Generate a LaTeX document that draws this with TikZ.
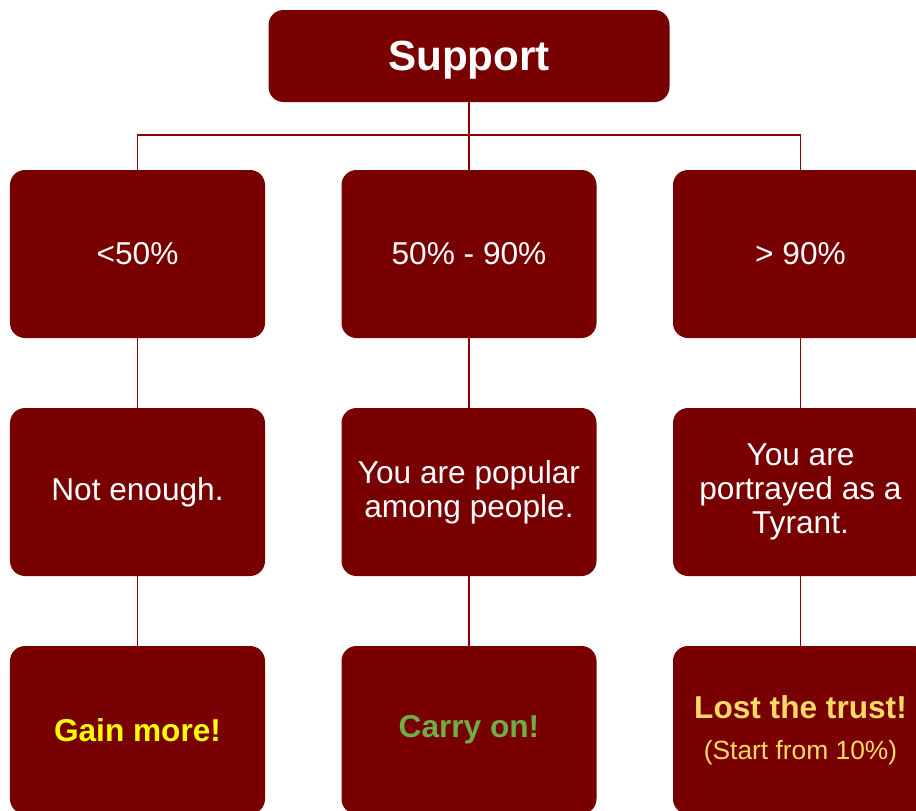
\documentclass[tikz,border=0pt]{standalone}
\usepackage{fontspec}
\setmainfont{Liberation Sans}
\definecolor{boxred}{RGB}{120,0,0}
\definecolor{linkred}{RGB}{140,0,0}
\definecolor{gainyellow}{RGB}{255,255,0}
\definecolor{carrygreen}{RGB}{112,173,71}
\definecolor{lostgold}{RGB}{255,217,102}

\begin{document}
\begin{tikzpicture}[
  block/.style={fill=boxred, rounded corners=0.3cm, text=white, align=center,
    minimum width=5.1cm, minimum height=3.36cm, inner sep=0pt,
    font=\fontsize{18}{19.5}\selectfont},
  link/.style={linkred, line width=1.1pt}]
\clip (0,0) rectangle (18.32,-16.22);
\fill [white] (0,0) rectangle (18.32,-16.22);
\node [block, minimum width=8.02cm, minimum height=1.84cm, text depth=0pt,
  font=\fontsize{24}{28}\selectfont\bfseries] (support) at (9.38,-1.12) {Support};
% first row: the ranges
\node [block] (low)  at (2.75,-5.08)  {<50\%};
\node [block] (mid)  at (9.38,-5.08)  {50\% - 90\%};
\node [block] (high) at (16.01,-5.08) {> 90\%};
% second row
\node [block] (lowtxt)  at (2.75,-9.84)  {Not enough.};
\node [block] (midtxt)  at (9.38,-9.84)  {You are popular\\among people.};
\node [block] (hightxt) at (16.01,-9.84) {You are\\portrayed as a\\Tyrant.};
% third row
\node [block, text=gainyellow, font=\fontsize{18}{19.5}\selectfont\bfseries]
  (gain) at (2.75,-14.6) {Gain more!};
\node [block, text=carrygreen, font=\fontsize{18}{19.5}\selectfont\bfseries]
  (carry) at (9.38,-14.6) {Carry on!};
\node [block, text=lostgold] (lost) at (16.01,-14.6)
  {{\bfseries Lost the trust!}\\[4pt]{\fontsize{15}{17}\selectfont (Start from 10\%)}};
\coordinate (bus) at (9.38,-2.7);
\draw [link] (support.south) -- (bus);
\draw [link] (low.north) |- (bus) -| (high.north);
\draw [link] (bus) -- (mid.north);
\draw [link] (low.south) -- (lowtxt.north);
\draw [link] (mid.south) -- (midtxt.north);
\draw [link] (high.south) -- (hightxt.north);
\draw [link] (lowtxt.south) -- (gain.north);
\draw [link] (midtxt.south) -- (carry.north);
\draw [link] (hightxt.south) -- (lost.north);
\end{tikzpicture}
\end{document}
